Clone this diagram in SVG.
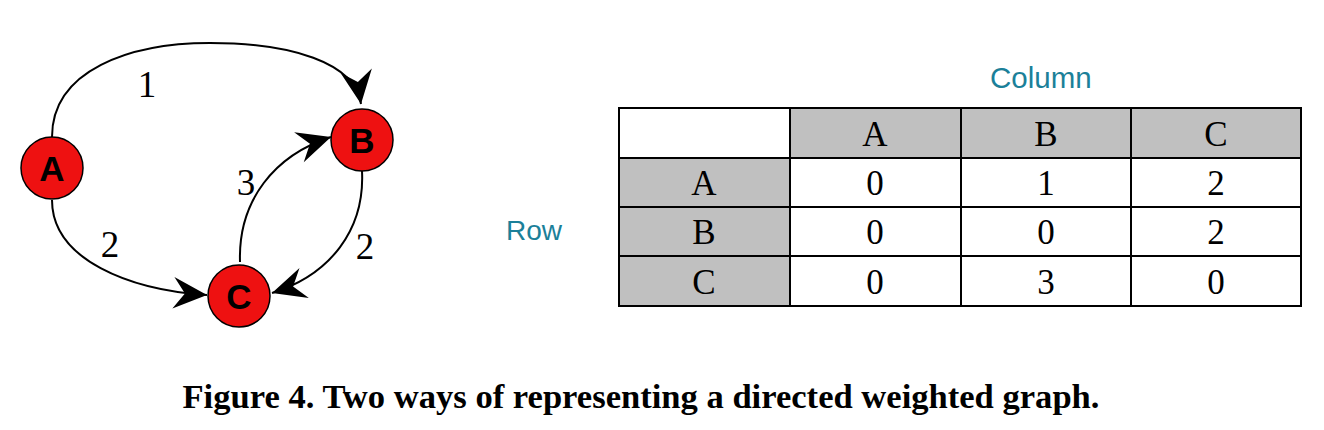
<svg xmlns="http://www.w3.org/2000/svg" width="1324" height="430" viewBox="0 0 1324 430">
<style>
.node circle{fill:#ee1111;stroke:#000;stroke-width:1.5}
.node text{font-family:"Liberation Sans",Arial,sans-serif;font-weight:bold;font-size:35px;text-anchor:middle;fill:#000}
.edge{fill:none;stroke:#000;stroke-width:2;marker-end:url(#arr)}
.wl{font-family:"Liberation Serif","Times New Roman",serif;font-size:37px;text-anchor:middle;fill:#000}
.cell{stroke:#000;stroke-width:2}
.g{fill:#c0c0c0}
.w{fill:#fff}
.tt{font-family:"Liberation Serif","Times New Roman",serif;font-size:35px;text-anchor:middle;fill:#000}
.lab{font-family:"Liberation Sans",Arial,sans-serif;font-size:28px;fill:#1b8099}
.cap{font-family:"Liberation Serif","Times New Roman",serif;font-weight:bold;font-size:34px;text-anchor:middle;fill:#000}
</style>
<defs>
<marker id="arr" markerUnits="userSpaceOnUse" markerWidth="40" markerHeight="40" viewBox="-34 -18 38 36" refX="0" refY="0" orient="auto">
<path d="M -32 -15 L 0 0 L -32 15 L -21 0 Z" fill="#000"/>
</marker>
</defs>
<rect width="1324" height="430" fill="#fff"/>
<g id="connectors">
<path class="edge" d="M 52 137 C 52 70, 130 43, 210 43 C 290 43, 355 62, 361 104"/>
<path class="edge" d="M 52 200 C 52 260, 130 290, 207 295"/>
<path class="edge" d="M 240 262 C 238 200, 275 155, 331 137"/>
<path class="edge" d="M 362 171 C 365 230, 330 275, 272 293"/>
<text class="wl" x="147" y="97">1</text>
<text class="wl" x="246" y="195">3</text>
<text class="wl" x="110" y="257">2</text>
<text class="wl" x="365" y="259">2</text>
</g>
<g id="node-A" class="node"><circle cx="52" cy="168" r="31"/><text x="52" y="181">A</text></g>
<g id="node-B" class="node"><circle cx="362" cy="140" r="31"/><text x="362" y="153">B</text></g>
<g id="node-C" class="node"><circle cx="239" cy="296" r="31"/><text x="239" y="309">C</text></g>
<g id="table">
<rect class="cell w" x="619" y="108" width="171" height="50"/>
<rect class="cell g" x="790" y="108" width="171" height="50"/>
<rect class="cell g" x="961" y="108" width="170" height="50"/>
<rect class="cell g" x="1131" y="108" width="170" height="50"/>
<rect class="cell g" x="619" y="158" width="171" height="49"/>
<rect class="cell w" x="790" y="158" width="171" height="49"/>
<rect class="cell w" x="961" y="158" width="170" height="49"/>
<rect class="cell w" x="1131" y="158" width="170" height="49"/>
<rect class="cell g" x="619" y="207" width="171" height="49"/>
<rect class="cell w" x="790" y="207" width="171" height="49"/>
<rect class="cell w" x="961" y="207" width="170" height="49"/>
<rect class="cell w" x="1131" y="207" width="170" height="49"/>
<rect class="cell g" x="619" y="256" width="171" height="50"/>
<rect class="cell w" x="790" y="256" width="171" height="50"/>
<rect class="cell w" x="961" y="256" width="170" height="50"/>
<rect class="cell w" x="1131" y="256" width="170" height="50"/>
<text class="tt" x="875" y="146">A</text>
<text class="tt" x="1046" y="146">B</text>
<text class="tt" x="1216" y="146">C</text>
<text class="tt" x="704" y="195">A</text>
<text class="tt" x="875" y="195">0</text>
<text class="tt" x="1046" y="195">1</text>
<text class="tt" x="1216" y="195">2</text>
<text class="tt" x="704" y="244">B</text>
<text class="tt" x="875" y="244">0</text>
<text class="tt" x="1046" y="244">0</text>
<text class="tt" x="1216" y="244">2</text>
<text class="tt" x="704" y="294">C</text>
<text class="tt" x="875" y="294">0</text>
<text class="tt" x="1046" y="294">3</text>
<text class="tt" x="1216" y="294">0</text>
</g>
<text class="lab" x="990" y="88" style="font-size:29.5px">Column</text>
<text class="lab" x="506" y="240">Row</text>
<text class="cap" x="641" y="408" textLength="917" lengthAdjust="spacingAndGlyphs">Figure 4. Two ways of representing a directed weighted graph.</text>
</svg>
